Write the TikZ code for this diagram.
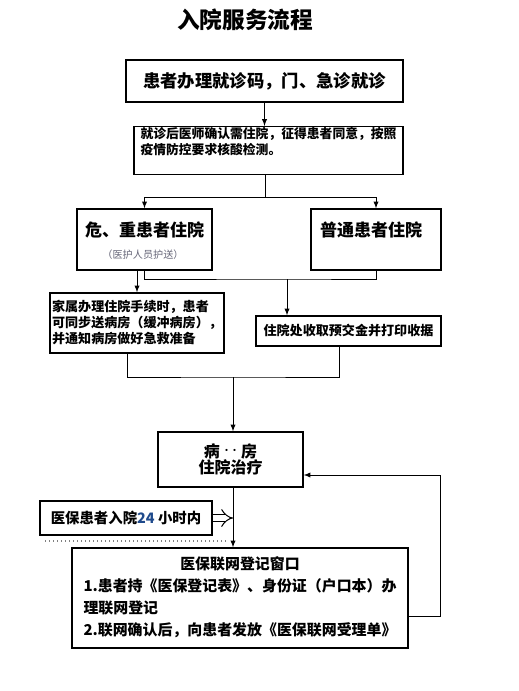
\documentclass[tikz,border=0pt]{standalone}
\usepackage{fontspec}
\setmainfont{Noto Sans CJK SC}
\usetikzlibrary{arrows,arrows.meta}
\definecolor{notegray}{rgb}{0.4,0.4,0.47}
\definecolor{numblue}{rgb}{0.12,0.29,0.55}
\tikzset{every picture/.style={line width=0.75pt}}
\tikzset{
box/.style={draw, line width=1pt, inner sep=0.75pt, align=center},
boxleft/.style={draw, line width=1pt, inner sep=0.75pt, align=left},
flow/.style={-latex}}

\begin{document}
\begin{tikzpicture}[x=0.75pt,y=0.75pt,yscale=-1,xscale=1]
\useasboundingbox (0,0) rectangle (518,691);

% Text Node
\node (title) at (245,20) {\fontsize{17}{20}\selectfont\bfseries 入院服务流程};

%Shape: Rectangle [visit]
\node[box, minimum width=207.75pt, minimum height=31.5pt] (visit) at (264.5,81) {\fontsize{13}{15}\selectfont\bfseries 患者办理就诊码，门、急诊就诊};
%Shape: Rectangle [confirm]
\node[boxleft, minimum width=201.75pt, minimum height=35.25pt] (confirm) at (268.5,150.5) {\fontsize{9.6}{13.5}\selectfont\bfseries 就诊后医师确认需住院，征得患者同意，按照\\\fontsize{9.6}{13.5}\selectfont\bfseries 疫情防控要求核酸检测。\\[2pt]};
%Shape: Rectangle [severe]
\node[box, minimum width=101.25pt, minimum height=45.75pt] (severe) at (144.5,239.5) {};
\node (severetxt) at (144.5,230) {\fontsize{12.75}{15}\selectfont\bfseries 危、重患者住院};
\node (escort) at (143,255) {\fontsize{7.6}{9}\selectfont\color{notegray}（医护人员护送）};
%Shape: Rectangle [normal]
\node[box, minimum width=97.5pt, minimum height=45.75pt] (normal) at (376,239.5) {};
\node (normaltxt) at (371,230) {\fontsize{12.75}{15}\selectfont\bfseries 普通患者住院};
%Shape: Rectangle [family]
\node[boxleft, minimum width=130.5pt, minimum height=45pt] (family) at (137,323) {\fontsize{9.8}{13.5}\selectfont\bfseries 家属办理住院手续时，患者\\\fontsize{9.8}{13.5}\selectfont\bfseries 可同步送病房（缓冲病房），\\\fontsize{9.8}{13.5}\selectfont\bfseries 并通知病房做好急救准备};
%Shape: Rectangle [pay]
\node[box, minimum width=138.75pt, minimum height=22.5pt] (pay) at (348.5,331) {\fontsize{9.8}{12}\selectfont\bfseries 住院处收取预交金并打印收据};
%Shape: Rectangle [ward]
\node[box, minimum width=108.75pt, minimum height=41.25pt] (ward) at (230.5,459.5) {\fontsize{12}{16.5}\selectfont\bfseries 病\,\raisebox{3pt}{\fontsize{6}{6}\selectfont··}\,房\\\fontsize{12}{16.5}\selectfont\bfseries 住院治疗};
%Shape: Rectangle [within]
\node[box, minimum width=129pt, minimum height=25.5pt] (within) at (126,518) {\fontsize{10.8}{13}\selectfont\bfseries 医保患者入院{\color{numblue}24} 小时内};
%Shape: Rectangle [insur]
\node[box, minimum width=252pt, minimum height=75pt] (insur) at (240,598) {\fontsize{11.2}{16.5}\selectfont\bfseries
\begin{tabular}{@{}l@{}}
\multicolumn{1}{@{}c@{}}{医保联网登记窗口}\\
1.患者持《医保登记表》、身份证（户口本）办\\
理联网登记\\
2.联网确认后，向患者发放《医保联网受理单》
\end{tabular}};

% Coordinates
\coordinate (split) at (265,198);
\coordinate (mid1) at (287,279);
\coordinate (mid2) at (233,377);
\coordinate (backlow) at (440,616);
\coordinate (back) at (440,475);
\coordinate (dotA) at (45,541);
\coordinate (dotB) at (227,541);

%Straight Lines
\draw[flow] (visit.south) -- (visit.south |- confirm.north);
\draw (split |- confirm.south) -- (split);
\draw[flow] (split) -| (severe.north);
\draw[flow] (split) -| (normal.north);
\draw[flow] (family.north |- severe.south) -- (family.north);
\draw (severe.south) |- (mid1) -| (normal.south);
\draw[flow] (mid1) -- (mid1 |- pay.north);
\draw ([xshift=-7.5pt]family.south) |- (mid2) -| ([xshift=-7pt]pay.south);
\draw[flow] (mid2) -- (mid2 |- ward.north);
\draw[flow] (mid2 |- ward.south) -- (mid2 |- insur.north);
\draw[double, double distance=4pt, -{Implies}] (within.east) -- (within.east -| mid2);
\draw[dotted, line width=1pt, gray] (dotA) -- (dotB);
\draw[flow] (insur.east |- backlow) -| (back) -- (back -| ward.east);

\end{tikzpicture}
\end{document}
